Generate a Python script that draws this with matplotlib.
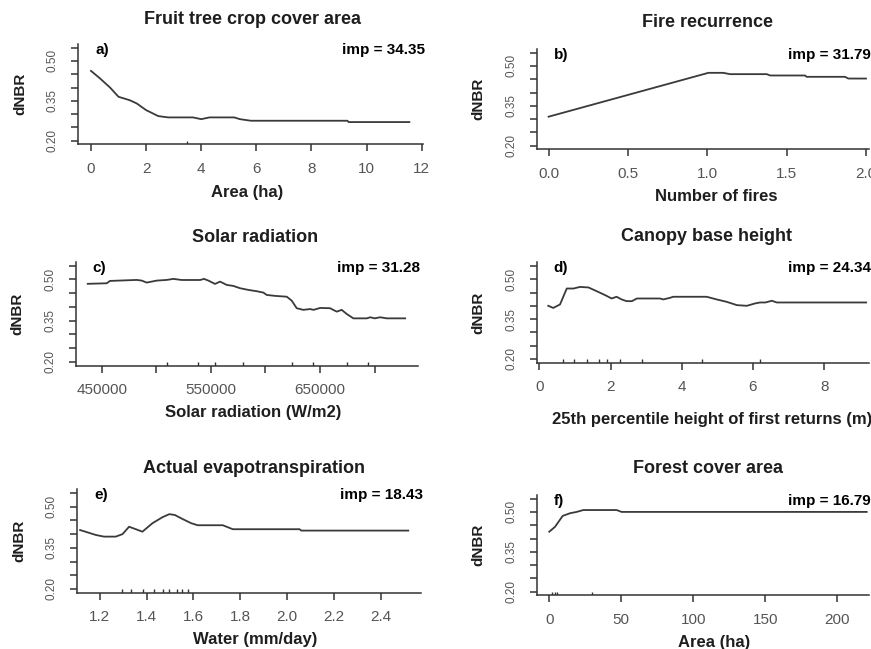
import numpy as np
import matplotlib
matplotlib.use('Agg')
import matplotlib.pyplot as plt

W, H = 871, 649

# ---------------- data ----------------
# a) Fruit tree crop cover area
a_x = [0, 0.33, 0.69, 1.0, 1.4, 1.66, 2.0, 2.44, 2.8, 3.7, 4.0, 4.3, 5.2, 5.4, 5.8, 9.3, 9.35, 11.55]
a_y = [0.4625, 0.434, 0.40, 0.365, 0.3525, 0.34, 0.315, 0.2925, 0.2875, 0.2875, 0.281, 0.2875,
       0.2875, 0.281, 0.275, 0.275, 0.27, 0.27]
a_rug = [3.47]

# b) Fire recurrence
b_x = [0, 1.007, 1.10, 1.144, 1.375, 1.396, 1.616, 1.626, 1.868, 1.889, 2.0]
b_y = [0.309, 0.474, 0.474, 0.469, 0.469, 0.464, 0.464, 0.459, 0.459, 0.4525, 0.4525]
b_rug = []

# c) Solar radiation
c_x = [437200, 454600, 457600, 482100, 486700, 491200, 500400, 509500, 515600, 523300, 540100,
       543700, 547700, 553800, 558400, 564500, 570600, 576700, 584400, 592000, 598100, 601100,
       608800, 619500, 624000, 628600, 634700, 640800, 644000, 650000, 659200, 662000, 665300,
       669800, 674400, 680500, 692700, 696000, 700000, 705000, 711000, 727900]
c_y = [0.484, 0.486, 0.4946, 0.4982, 0.4958, 0.4885, 0.4958, 0.4982, 0.502, 0.498, 0.498,
       0.502, 0.4958, 0.4836, 0.4921, 0.480, 0.4763, 0.468, 0.4617, 0.457, 0.452, 0.4435,
       0.440, 0.437, 0.4227, 0.395, 0.389, 0.392, 0.389, 0.396, 0.395, 0.389, 0.3825,
       0.389, 0.374, 0.358, 0.358, 0.362, 0.358, 0.362, 0.358, 0.358]
c_rug = [509500, 537900, 553800, 579800, 624000, 643900, 674400, 694300]

# d) Canopy base height
d_x = [0.25, 0.39, 0.58, 0.77, 0.96, 1.14, 1.38, 1.61, 1.85, 2.03, 2.17, 2.31, 2.45, 2.60, 2.74,
       3.39, 3.48, 3.67, 3.76, 4.70, 4.98, 5.26, 5.55, 5.83, 6.06, 6.20, 6.35, 6.53, 6.67, 9.18]
d_y = [0.40, 0.392, 0.405, 0.465, 0.465, 0.471, 0.469, 0.455, 0.44, 0.4275, 0.434, 0.424, 0.4175,
       0.4175, 0.4275, 0.4275, 0.424, 0.43, 0.434, 0.434, 0.424, 0.415, 0.4025, 0.40, 0.409,
       0.4125, 0.4125, 0.419, 0.4125, 0.4125]
d_rug = [0.67, 0.98, 1.33, 1.68, 1.91, 2.27, 2.88, 4.56, 6.2]

# e) Actual evapotranspiration
e_x = [1.116, 1.183, 1.218, 1.268, 1.297, 1.325, 1.354, 1.382, 1.425, 1.468, 1.497, 1.52,
       1.554, 1.59, 1.618, 1.725, 1.768, 2.053, 2.06, 2.517]
e_y = [0.415, 0.397, 0.391, 0.391, 0.40, 0.427, 0.418, 0.409, 0.44, 0.462, 0.473, 0.47,
       0.455, 0.44, 0.4325, 0.4325, 0.418, 0.418, 0.413, 0.413]
e_rug = [1.294, 1.333, 1.385, 1.432, 1.471, 1.497, 1.530, 1.551, 1.575]

# f) Forest cover area
f_x = [0, 4.0, 9.3, 14.4, 19, 23.6, 46.8, 50.2, 220.4]
f_y = [0.4255, 0.444, 0.485, 0.495, 0.50, 0.507, 0.507, 0.50, 0.50]
f_rug = [1.7, 4.0, 5.1, 30]

titles = ['Fruit tree crop cover area', 'Fire recurrence', 'Solar radiation',
          'Canopy base height', 'Actual evapotranspiration', 'Forest cover area']
xlabels = ['Area (ha)', 'Number of fires', 'Solar radiation (W/m2)',
           '25th percentile height of first returns (m)', 'Water (mm/day)', 'Area (ha)']
letters = ['a)', 'b)', 'c)', 'd)', 'e)', 'f)']
imps = [34.35, 31.79, 31.28, 24.34, 18.43, 16.79]

xticks = [[0, 2, 4, 6, 8, 10, 12],
          [0, 0.5, 1.0, 1.5, 2.0],
          [450000, 500000, 550000, 600000, 650000, 700000],
          [0, 2, 4, 6, 8],
          [1.2, 1.4, 1.6, 1.8, 2.0, 2.2, 2.4],
          [0, 50, 100, 150, 200]]
xticklabels = [['0', '2', '4', '6', '8', '10', '12'],
               ['0.0', '0.5', '1.0', '1.5', '2.0'],
               ['450000', '', '550000', '', '650000', ''],
               ['0', '2', '4', '6', '8'],
               ['1.2', '1.4', '1.6', '1.8', '2.0', '2.2', '2.4'],
               ['0', '50', '100', '150', '200']]
yticks = [0.20, 0.25, 0.30, 0.35, 0.40, 0.45, 0.50, 0.55]
yticklabels = ['0.20', '', '', '0.35', '', '', '0.50', '']

# ---------------- layout (pixels: left, top, right, bottom) ----------------
boxes = [(78.3, 43.9, 423.4, 144.4), (536.7, 48.9, 869.0, 149.4),
         (75.5, 261.9, 417.8, 365.5), (536.5, 262.2, 869.0, 362.7),
         (77.3, 489.2, 420.7, 592.8), (536.6, 494.9, 869.0, 595.4)]
xlims = [(-0.46, 12.06), (-0.075, 2.019), (426000, 739500),
         (-0.08, 9.26), (1.104, 2.57), (-8.8, 222.0)]
title_cx = [252.5, 708, 255.5, 706.7, 254, 707.5]
title_gap = [24, 26, 24.5, 25.5, 20.5, 26]
xlabel_cx = [247, 716.5, 253, 712, 255, 714]
xlabel_gap = [48.5, 47, 46.5, 57, 47, 47]
ylim = (0.186, 0.564)

plt.rcParams.update({'font.family': ['Liberation Sans', 'DejaVu Sans']})
line_col = '#3a3a3a'
axis_col = '#333333'
tick_txt = '#555555'

fig = plt.figure(figsize=(W / 100, H / 100), dpi=100)

series = [(a_x, a_y, a_rug), (b_x, b_y, b_rug), (c_x, c_y, c_rug),
          (d_x, d_y, d_rug), (e_x, e_y, e_rug), (f_x, f_y, f_rug)]

for i in range(6):
    l, t, r, b = boxes[i]
    wpx, hpx = r - l, b - t
    ax = fig.add_axes([l / W, 1 - b / H, wpx / W, hpx / H])
    x, y, rug = series[i]

    ax.plot(x, y, color=line_col, lw=1.3, clip_on=False)
    if len(rug) > 0:
        ax.vlines(rug, 0, 0.035, color=axis_col, lw=1.0, transform=ax.get_xaxis_transform())

    ax.set_xlim(*xlims[i])
    ax.set_ylim(*ylim)

    for s in ['top', 'right']:
        ax.spines[s].set_visible(False)
    for s in ['left', 'bottom']:
        ax.spines[s].set_color(axis_col)
        ax.spines[s].set_linewidth(1.1)

    ax.set_xticks(xticks[i])
    ax.set_xticklabels(xticklabels[i], fontsize=11, color=tick_txt)
    ax.set_yticks(yticks)
    ax.set_yticklabels(yticklabels, fontsize=8.5, color=tick_txt, rotation=90, va='center')
    ax.tick_params(axis='x', length=5, width=1.1, color=axis_col, pad=7.5)
    ax.tick_params(axis='y', length=5, width=1.1, color=axis_col, pad=9)

    ax.set_xlabel(xlabels[i], fontsize=12, fontweight='bold', color='#1e1e1e', va='center')
    ax.xaxis.set_label_coords((xlabel_cx[i] - l) / wpx, -xlabel_gap[i] / hpx)
    ax.set_ylabel('dNBR', fontsize=11, fontweight='bold', color='#1e1e1e', va='center', ha='center')
    ax.yaxis.set_label_coords(-58 / wpx, 0.5)

    ax.text((title_cx[i] - l) / wpx, 1 + title_gap[i] / hpx, titles[i], transform=ax.transAxes,
            ha='center', va='center', fontsize=13, fontweight='bold', color='#1e1e1e')
    ax.annotate(letters[i], xy=(0, 1), xycoords='axes fraction', xytext=(17, -6),
                textcoords='offset pixels', ha='left', va='center', fontsize=11, fontweight='bold')
    ax.annotate('imp = %.2f' % imps[i], xy=(1, 1), xycoords='axes fraction', xytext=(2, -6),
                textcoords='offset pixels', ha='right', va='center', fontsize=11, fontweight='bold')

fig.savefig('out.png', dpi=100)
